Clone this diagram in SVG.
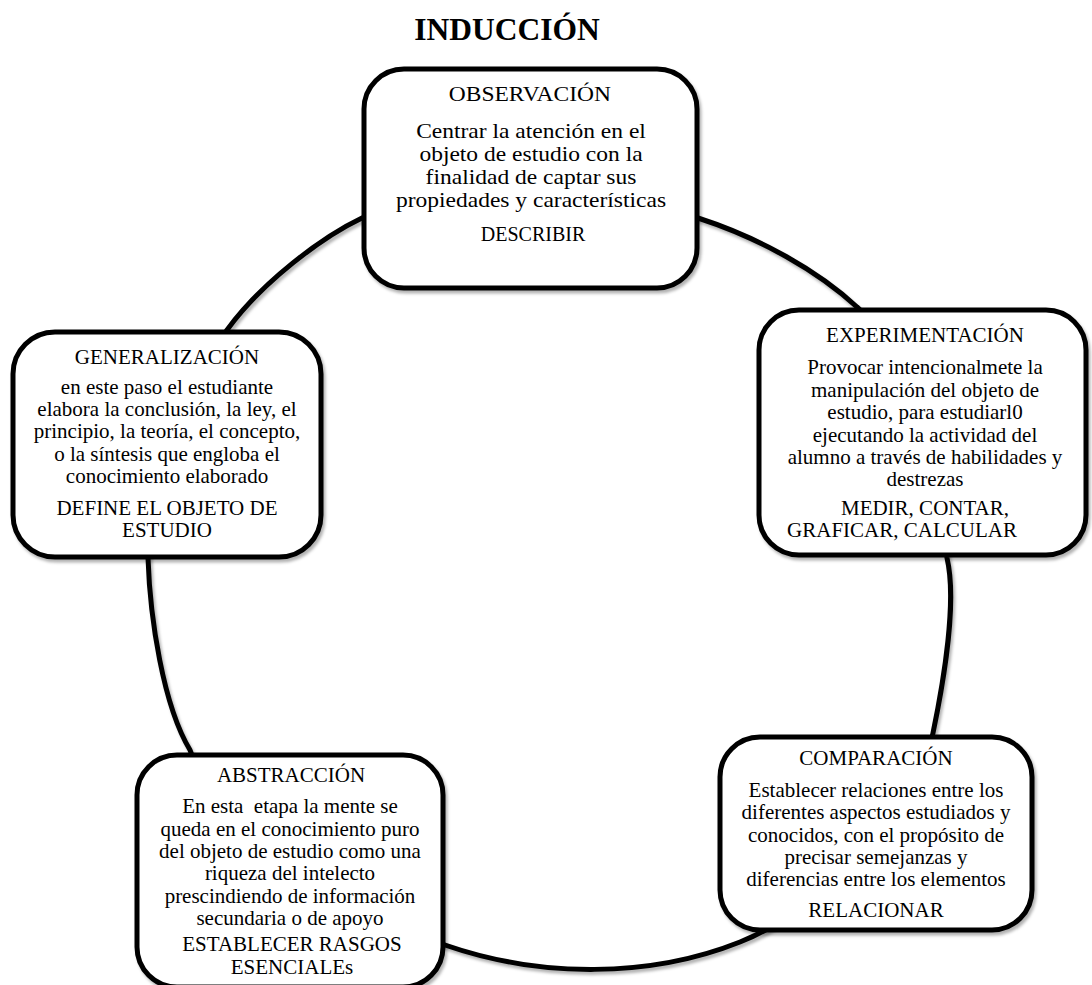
<svg xmlns="http://www.w3.org/2000/svg" width="1092" height="985" viewBox="0 0 1092 985">
<defs>
<filter id="sh" x="-5%" y="-5%" width="110%" height="110%">
<feDropShadow dx="2" dy="3" stdDeviation="1.5" flood-color="#000" flood-opacity="0.3"/>
</filter>
</defs>
<style>
.box{fill:#fff;stroke:#000;stroke-width:5;filter:url(#sh)}
.ring{fill:none;stroke:#000;stroke-width:5;filter:url(#sh)}
text{font-family:"Liberation Serif","Times New Roman",serif;fill:#000;text-anchor:middle}
.t{font-size:21px}
.h{font-size:31.5px;font-weight:bold}
</style>
<rect width="1092" height="985" fill="#fff"/>
<text class="h" x="507" y="40">INDUCCIÓN</text>
<g id="connectors">
<path class="ring" d="M362,218 C422,190 638,199 698,218 C760,238 818,271 857,307 C907,351 939,478 947,558 C957,600 944,680 933,733 C918,808 821,910 740,942 C650,978 540,978 445,945 C388,925 210,810 190,750 C163,705 150,618 148,558 C146,498 183,396 227,330 C262,282 322,237 362,218 Z"/>
</g>
<g id="observacion">
<rect class="box" x="364" y="69" width="333" height="219" rx="40"/>
<g transform="translate(531,0) scale(1.12,1)">
<text class="t" x="-1" y="101">OBSERVACIÓN</text>
<text class="t" x="0" y="138">Centrar la atención en el</text>
<text class="t" x="0" y="161">objeto de estudio con la</text>
<text class="t" x="0" y="184">finalidad de captar sus</text>
<text class="t" x="0" y="207">propiedades y características</text>
</g>
<text class="t" x="533" y="241" style="font-size:20px">DESCRIBIR</text>
</g>
<g id="experimentacion">
<rect class="box" x="759" y="310" width="327" height="245" rx="40"/>
<text class="t" x="925" y="342">EXPERIMENTACIÓN</text>
<text class="t" x="925" y="374">Provocar intencionalmete la</text>
<text class="t" x="925" y="396.5">manipulación del objeto de</text>
<text class="t" x="925" y="419">estudio, para estudiarl0</text>
<text class="t" x="925" y="441.5">ejecutando la actividad del</text>
<text class="t" x="925" y="464">alumno a través de habilidades y</text>
<text class="t" x="925" y="486">destrezas</text>
<text class="t" x="925" y="515">MEDIR, CONTAR,</text>
<text class="t" x="902" y="537">GRAFICAR, CALCULAR</text>
</g>
<g id="comparacion">
<rect class="box" x="720" y="737" width="312" height="193" rx="40"/>
<text class="t" x="876" y="765">COMPARACIÓN</text>
<text class="t" x="876" y="796.5">Establecer relaciones entre los</text>
<text class="t" x="876" y="819">diferentes aspectos estudiados y</text>
<text class="t" x="876" y="841.5">conocidos, con el propósito de</text>
<text class="t" x="876" y="863.5">precisar semejanzas y</text>
<text class="t" x="876" y="886">diferencias entre los elementos</text>
<text class="t" x="876" y="917">RELACIONAR</text>
</g>
<g id="abstraccion">
<rect class="box" x="137" y="755" width="306" height="232" rx="40"/>
<text class="t" x="291" y="782">ABSTRACCIÓN</text>
<text class="t" x="290" y="813" xml:space="preserve">En esta  etapa la mente se</text>
<text class="t" x="290" y="835.5">queda en el conocimiento puro</text>
<text class="t" x="290" y="858">del objeto de estudio como una</text>
<text class="t" x="290" y="880">riqueza del intelecto</text>
<text class="t" x="290" y="902.5">prescindiendo de información</text>
<text class="t" x="290" y="924.5">secundaria o de apoyo</text>
<text class="t" x="292" y="951">ESTABLECER RASGOS</text>
<text class="t" x="292" y="974">ESENCIALEs</text>
</g>
<g id="generalizacion">
<rect class="box" x="13" y="332" width="308" height="225" rx="42"/>
<text class="t" x="167" y="364">GENERALIZACIÓN</text>
<text class="t" x="167" y="393.5">en este paso el estudiante</text>
<text class="t" x="167" y="416">elabora la conclusión, la ley, el</text>
<text class="t" x="167" y="438">principio, la teoría, el concepto,</text>
<text class="t" x="167" y="460.5">o la síntesis que engloba el</text>
<text class="t" x="167" y="483">conocimiento elaborado</text>
<text class="t" x="167" y="515">DEFINE EL OBJETO DE</text>
<text class="t" x="167" y="537">ESTUDIO</text>
</g>
</svg>
